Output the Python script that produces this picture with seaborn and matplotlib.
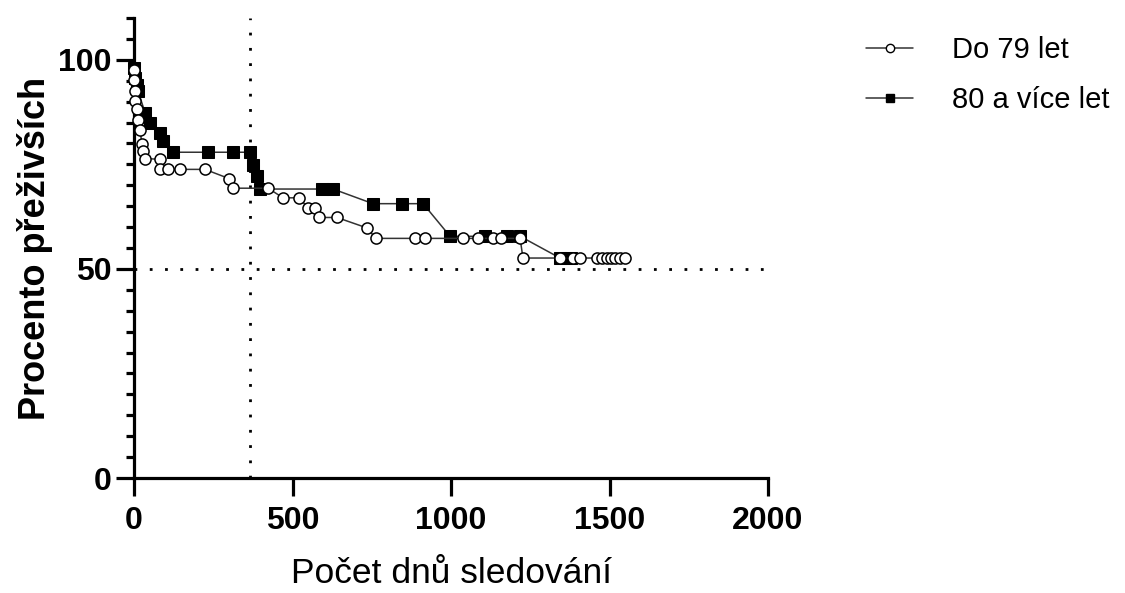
import matplotlib
matplotlib.use("Agg")
import matplotlib.pyplot as plt
import seaborn as sns
import numpy as np
import pandas as pd
from matplotlib.ticker import MultipleLocator
from matplotlib.lines import Line2D

# ---- data ----
days_young = [0, 1, 3, 4, 9, 13, 19, 25, 28, 35, 82, 82, 107, 145, 224, 300, 312, 423,
              470, 521, 549, 571, 584, 640, 735, 763, 886, 918, 1038, 1085, 1132, 1158,
              1218, 1227, 1344, 1385, 1407, 1461, 1475, 1492, 1505, 1517, 1532, 1549]
pct_young = [97.6, 95.2, 92.5, 90.1, 88.3, 85.7, 83.3, 79.8, 78.1, 76.4, 76.2, 73.8, 73.8, 73.8,
             73.8, 71.6, 69.3, 69.3, 67.0, 67.0, 64.6, 64.6, 62.3, 62.3, 59.8, 57.3, 57.3,
             57.3, 57.3, 57.3, 57.3, 57.3, 57.3, 52.6, 52.6, 52.6, 52.6, 52.6, 52.6, 52.6,
             52.6, 52.6, 52.6, 52.6]

days_old = [0, 3, 9, 13, 35, 50, 82, 91, 123, 233, 312, 366, 375, 388, 397, 593, 628,
            754, 845, 912, 997, 1107, 1177, 1218, 1344, 1379]
pct_old = [98.1, 95.7, 94.0, 92.5, 87.3, 84.9, 82.5, 80.5, 77.9, 77.9, 77.9, 77.9, 74.8,
           72.1, 69.1, 69.1, 69.1, 65.6, 65.6, 65.6, 57.8, 57.8, 57.8, 57.8, 52.6, 52.6]

labels = ["Do 79 let", "80 a více let"]
x_ticks = [0, 500, 1000, 1500, 2000]
y_ticks = [0, 50, 100]
median_level = 50
one_year = 365

sns.set_theme(style="white")
plt.rcParams['font.family'] = ['Liberation Sans', 'DejaVu Sans']
plt.rcParams.update({"text.color": "black", "axes.labelcolor": "black",
                     "xtick.color": "black", "ytick.color": "black"})

fig = plt.figure(figsize=(11.25, 5.93), dpi=100)
ax = fig.add_axes([134/1125, 1 - 478/593, (768 - 134)/1125, (478 - 18)/593])

df_y = pd.DataFrame({"d": days_young, "p": pct_young})
df_o = pd.DataFrame({"d": days_old, "p": pct_old})

# reference lines
ax.axhline(median_level, color="black", lw=2.0, ls=(0, (1, 4.5)), zorder=1)
ax.axvline(one_year, color="black", lw=2.0, ls=(0, (1, 4.5)), zorder=1)

sns.lineplot(data=df_y, x="d", y="p", ax=ax, estimator=None, sort=False,
             color="#333333", lw=1.1, marker="o", markersize=8,
             markerfacecolor="white", markeredgecolor="black", markeredgewidth=1.1,
             clip_on=False, zorder=3)
sns.lineplot(data=df_o, x="d", y="p", ax=ax, estimator=None, sort=False,
             color="#333333", lw=1.1, marker="s", markersize=9,
             markerfacecolor="black", markeredgecolor="black",
             clip_on=False, zorder=2)

ax.set_xlim(0, 2000)
ax.set_ylim(0, 110)
ax.set_xticks(x_ticks)
ax.set_yticks(y_ticks)
ax.yaxis.set_minor_locator(MultipleLocator(5))

for s in ["top", "right"]:
    ax.spines[s].set_visible(False)
for s in ["left", "bottom"]:
    ax.spines[s].set_linewidth(2.3)
    ax.spines[s].set_color("black")

ax.tick_params(axis="both", which="major", direction="out", length=13, width=2.3,
               color="black", labelcolor="black", left=True, bottom=True)
ax.tick_params(axis="y", which="minor", direction="out", length=6, width=2.3,
               color="black", left=True)
ax.tick_params(axis="x", pad=7)
ax.tick_params(axis="y", pad=3)
for lab in ax.get_xticklabels() + ax.get_yticklabels():
    lab.set_fontweight("bold")
    lab.set_fontsize(23)

ax.set_xlabel("Počet dnů sledování", fontsize=25.5, labelpad=15, color="black")
ax.set_ylabel("Procento přeživších", fontsize=26, fontweight="bold", labelpad=4, color="black")

h1 = Line2D([], [], color="#333333", lw=1.1, marker="o", markersize=6,
            markerfacecolor="white", markeredgecolor="black")
h2 = Line2D([], [], color="#333333", lw=1.1, marker="s", markersize=6,
            markerfacecolor="black", markeredgecolor="black")
leg = fig.legend([h1, h2], labels, loc="upper left", bbox_to_anchor=(840/1125, 1 - 10/593),
                 frameon=False, fontsize=21, handlelength=1.6, handletextpad=1.35,
                 labelspacing=0.75, labelcolor="black")

fig.savefig("out.png", dpi=100)
